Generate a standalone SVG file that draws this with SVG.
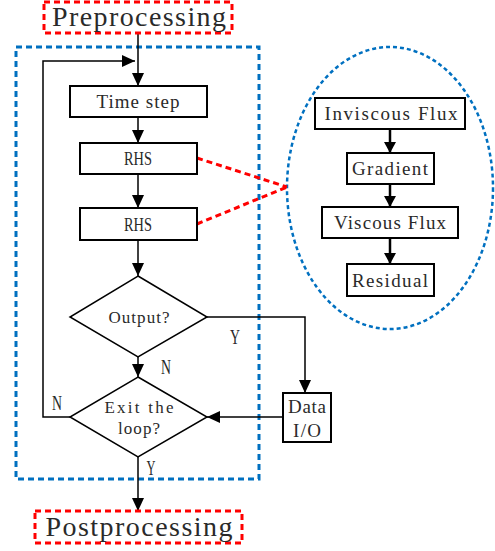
<svg xmlns="http://www.w3.org/2000/svg" width="495" height="551" viewBox="0 0 495 551">
<style>
.box{fill:#fff;stroke:#000;stroke-width:2}
.t{font-family:"Liberation Serif",serif;fill:#2a2a2a;text-anchor:middle}
.c{fill:none;stroke:#000;stroke-width:1.5}
.ci{fill:none;stroke:#000;stroke-width:2.5}
.red{fill:none;stroke:#f00;stroke-width:3;stroke-dasharray:6,4}
.blue{fill:none;stroke:#0070c0;stroke-width:3;stroke-dasharray:6,4}
</style>
<defs>
<marker id="a" markerUnits="userSpaceOnUse" markerWidth="14" markerHeight="12" refX="13" refY="6" orient="auto"><path d="M0,0 L13,6 L0,12 z" fill="#000"/></marker>
<marker id="b" markerUnits="userSpaceOnUse" markerWidth="12" markerHeight="12" refX="11" refY="6" orient="auto"><path d="M0,0 L11,6 L0,12 z" fill="#000"/></marker>
</defs>
<rect class="blue" x="16" y="47" width="243" height="432"/>
<ellipse cx="390" cy="188" rx="103" ry="141" fill="none" stroke="#0070c0" stroke-width="2.5" stroke-dasharray="4,3"/>
<g id="connectors">
<line class="c" x1="138" y1="33" x2="138" y2="86" marker-end="url(#a)"/>
<polyline class="c" points="70,417 43,417 43,61 135,61" marker-end="url(#a)"/>
<line class="c" x1="138" y1="117" x2="138" y2="143" marker-end="url(#a)"/>
<line class="c" x1="138" y1="174" x2="138" y2="208" marker-end="url(#a)"/>
<line class="c" x1="138" y1="240" x2="138" y2="276" marker-end="url(#a)"/>
<line class="c" x1="138" y1="357" x2="138" y2="377" marker-end="url(#a)"/>
<polyline class="c" points="207,317 305,317 305,393" marker-end="url(#a)"/>
<line class="c" x1="283" y1="417" x2="207" y2="417" marker-end="url(#a)"/>
<line class="c" x1="138" y1="457" x2="138" y2="511" marker-end="url(#a)"/>
<line class="ci" x1="390" y1="129" x2="390" y2="153" marker-end="url(#b)"/>
<line class="ci" x1="390" y1="184" x2="390" y2="207" marker-end="url(#b)"/>
<line class="ci" x1="390" y1="238" x2="390" y2="264" marker-end="url(#b)"/>
<line class="red" x1="197" y1="158" x2="287" y2="187"/>
<line class="red" x1="197" y1="224" x2="287" y2="187"/>
<text class="t" x="235" y="344" font-size="22" textLength="10" lengthAdjust="spacingAndGlyphs">Y</text>
<text class="t" x="166" y="374" font-size="22" textLength="10" lengthAdjust="spacingAndGlyphs">N</text>
<text class="t" x="57" y="410" font-size="22" textLength="10" lengthAdjust="spacingAndGlyphs">N</text>
<text class="t" x="151" y="475" font-size="20" textLength="9" lengthAdjust="spacingAndGlyphs">Y</text>
</g>
<g id="preprocessing">
<rect class="red" x="44" y="2" width="188" height="31"/>
<text class="t" x="139" y="26" font-size="28" textLength="174" lengthAdjust="spacing">Preprocessing</text>
</g>
<g id="timestep">
<rect class="box" x="70" y="86" width="137" height="31"/>
<text class="t" x="138" y="108" font-size="19" textLength="83" lengthAdjust="spacing">Time step</text>
</g>
<g id="rhs1">
<rect class="box" x="80" y="143" width="117" height="31"/>
<text class="t" x="138" y="165" font-size="19" textLength="28" lengthAdjust="spacingAndGlyphs">RHS</text>
</g>
<g id="rhs2">
<rect class="box" x="80" y="208" width="117" height="32"/>
<text class="t" x="138" y="231" font-size="19" textLength="28" lengthAdjust="spacingAndGlyphs">RHS</text>
</g>
<g id="output">
<polygon class="box" style="stroke-width:1.5" points="138,276 207,317 138,357 70,317"/>
<text class="t" x="139" y="323" font-size="17" textLength="61" lengthAdjust="spacing">Output?</text>
</g>
<g id="exit">
<polygon class="box" style="stroke-width:1.5" points="138,377 207,417 138,457 70,417"/>
<text class="t" x="139" y="413" font-size="17" textLength="69" lengthAdjust="spacing">Exit the</text>
<text class="t" x="139" y="434" font-size="17" textLength="42" lengthAdjust="spacing">loop?</text>
</g>
<g id="dataio">
<rect class="box" x="283" y="393" width="48" height="49"/>
<text class="t" x="307" y="413" font-size="19" textLength="38" lengthAdjust="spacing">Data</text>
<text class="t" x="307" y="437" font-size="19" textLength="28" lengthAdjust="spacing">I/O</text>
</g>
<g id="postprocessing">
<rect class="red" x="35" y="511" width="207" height="32"/>
<text class="t" x="139" y="536" font-size="28" textLength="187" lengthAdjust="spacing">Postprocessing</text>
</g>
<g id="inviscous">
<rect class="box" x="315" y="98" width="150" height="31"/>
<text class="t" x="391" y="120" font-size="19" textLength="133" lengthAdjust="spacing">Inviscous Flux</text>
</g>
<g id="gradient">
<rect class="box" x="347" y="153" width="87" height="31"/>
<text class="t" x="390" y="175" font-size="19" textLength="76" lengthAdjust="spacing">Gradient</text>
</g>
<g id="viscous">
<rect class="box" x="322" y="207" width="136" height="31"/>
<text class="t" x="390" y="229" font-size="19" textLength="112" lengthAdjust="spacing">Viscous Flux</text>
</g>
<g id="residual">
<rect class="box" x="347" y="264" width="87" height="32"/>
<text class="t" x="390" y="287" font-size="19" textLength="76" lengthAdjust="spacing">Residual</text>
</g>
</svg>
